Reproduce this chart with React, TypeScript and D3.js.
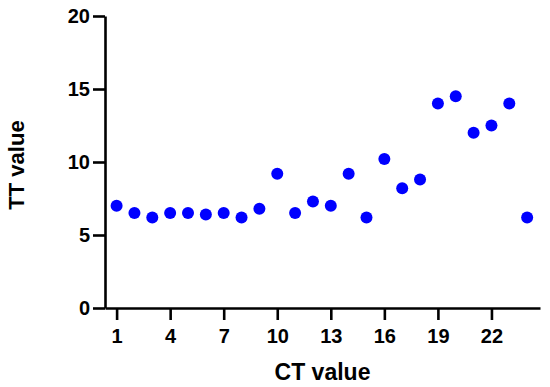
import React, { useEffect, useRef } from 'react';
import * as d3 from 'd3';

// CT value index and TT values
const ctValues = [1, 2, 3, 4, 5, 6, 7, 8, 9, 10, 11, 12, 13, 14, 15, 16, 17, 18, 19, 20, 21, 22, 23, 24];
const ttValues = [7.0, 6.5, 6.2, 6.5, 6.5, 6.4, 6.5, 6.2, 6.8, 9.2, 6.5, 7.3, 7.0, 9.2, 6.2, 10.2, 8.2, 8.8, 14.0, 14.5, 12.0, 12.5, 14.0, 6.2];
const xTicks = [1, 4, 7, 10, 13, 16, 19, 22];
const yTicks = [0, 5, 10, 15, 20];

const width = 550;
const height = 387;
const margin = { top: 16, right: 10, bottom: 79, left: 105 };
const font = '"Liberation Sans", Arial, sans-serif';

export default function App() {
	const ref = useRef<SVGSVGElement>(null);

	useEffect(() => {
		const svg = d3.select(ref.current);
		svg.selectAll('*').remove();

		const xScale = d3
			.scaleLinear()
			.domain([0.35, 24.72])
			.range([margin.left, width - margin.right]);
		const yScale = d3
			.scaleLinear()
			.domain([0, 20])
			.range([height - margin.bottom, margin.top]);

		const xAxis = d3.axisBottom(xScale).tickValues(xTicks).tickSize(12).tickSizeOuter(0).tickPadding(9);
		const yAxis = d3.axisLeft(yScale).tickValues(yTicks).tickSize(12).tickSizeOuter(0).tickPadding(3);

		const gx = svg
			.append('g')
			.attr('transform', `translate(0,${height - margin.bottom})`)
			.call(xAxis);
		const gy = svg.append('g').attr('transform', `translate(${margin.left},0)`).call(yAxis);

		[gx, gy].forEach(g => {
			g.select('.domain').attr('stroke', '#000').attr('stroke-width', 2.6);
			g.selectAll('.tick line').attr('stroke', '#000').attr('stroke-width', 2.6);
			g.selectAll('.tick text')
				.attr('fill', '#000')
				.style('font-family', font)
				.style('font-weight', 'bold')
				.style('font-size', '20px');
		});

		// axis titles
		svg.append('text')
			.attr('x', (margin.left + width - margin.right) / 2)
			.attr('y', 380)
			.attr('text-anchor', 'middle')
			.style('font-family', font)
			.style('font-weight', 'bold')
			.style('font-size', '23px')
			.text('CT value');
		svg.append('text')
			.attr('transform', `translate(24,${(margin.top + height - margin.bottom) / 2 + 3}) rotate(-90)`)
			.attr('text-anchor', 'middle')
			.style('font-family', font)
			.style('font-weight', 'bold')
			.style('font-size', '22px')
			.text('TT value');

		svg.append('g')
			.selectAll('circle')
			.data(ctValues)
			.enter()
			.append('circle')
			.attr('cx', d => xScale(d))
			.attr('cy', (d, i) => yScale(ttValues[i]))
			.attr('r', 6)
			.attr('fill', '#0000ff');
	}, []);

	return (
		<svg
			ref={ref}
			width={width}
			height={height}
			style={{ position: 'absolute', left: 0, top: 0, background: '#fff' }}
		/>
	);
}
